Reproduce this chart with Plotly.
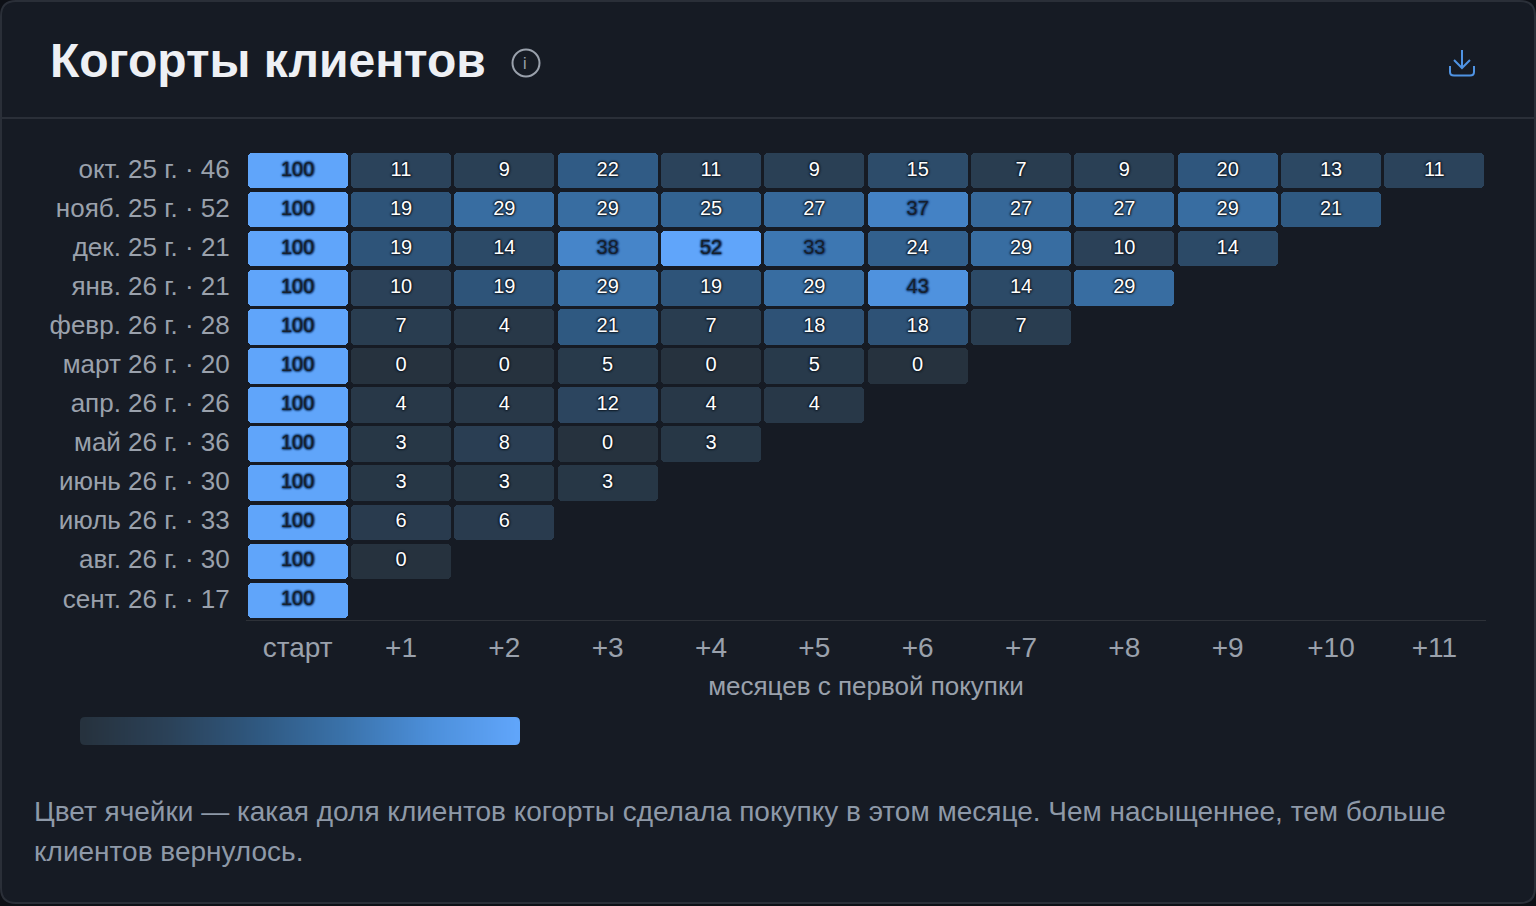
#!/usr/bin/env python3
# -*- coding: utf-8 -*-
import plotly.graph_objects as go

W, H = 1536, 906
FONT = "Liberation Sans"

cohort_labels = ["окт. 25 г. · 46", "нояб. 25 г. · 52", "дек. 25 г. · 21", "янв. 26 г. · 21",
                 "февр. 26 г. · 28", "март 26 г. · 20", "апр. 26 г. · 26", "май 26 г. · 36",
                 "июнь 26 г. · 30", "июль 26 г. · 33", "авг. 26 г. · 30", "сент. 26 г. · 17"]
month_labels = ["старт", "+1", "+2", "+3", "+4", "+5", "+6", "+7", "+8", "+9", "+10", "+11"]
retention = [
    [100, 11, 9, 22, 11, 9, 15, 7, 9, 20, 13, 11],
    [100, 19, 29, 29, 25, 27, 37, 27, 27, 29, 21],
    [100, 19, 14, 38, 52, 33, 24, 29, 10, 14],
    [100, 10, 19, 29, 19, 29, 43, 14, 29],
    [100, 7, 4, 21, 7, 18, 18, 7],
    [100, 0, 0, 5, 0, 5, 0],
    [100, 4, 4, 12, 4, 4],
    [100, 3, 8, 0, 3],
    [100, 3, 3, 3],
    [100, 6, 6],
    [100, 0],
    [100],
]
colorscale = [[0, "#26323e"], [0.2, "#2b4259"], [0.4, "#2f5880"],
              [0.6, "#3a72aa"], [0.8, "#4c8fda"], [1, "#60a5fa"]]
scale_max = 52
legend_steps = list(range(scale_max + 1))


def halo(c):
    return f"1px 0 2px {c}, -1px 0 2px {c}, 0 1px 2px {c}, 0 -1px 2px {c}, 0 0 1px {c}"


xs, ys, vals = [], [], []
for r, row in enumerate(retention):
    for c, v in enumerate(row):
        xs.append(c)
        ys.append(r)
        vals.append(v)

fig = go.Figure()

# gradient strip, on the pixel axes
fig.add_trace(go.Heatmap(
    z=[legend_steps, legend_steps], x=[80 + 440 * (v + 0.5) / len(legend_steps) for v in legend_steps], y=[724, 738],
    colorscale=colorscale, zmin=0, zmax=scale_max, zsmooth="best", showscale=False, hoverinfo="skip",
))

# cells
fig.add_trace(go.Bar(
    x=xs, y=[0.91] * len(xs), base=[r + 0.045 for r in ys], width=0.968, xaxis="x2", yaxis="y2",
    marker=dict(color=vals, colorscale=colorscale, cmin=0, cmax=scale_max, cornerradius=4, line_width=0),
    hoverinfo="skip", showlegend=False,
))

# white labels on dark cells, dark ones on bright cells
for dark, color, shadow in [(False, "#ffffff", halo("rgba(18,28,40,0.9)")),
                            (True, "#16202e", halo("#1f4a80"))]:
    idx = [i for i, v in enumerate(vals) if (v >= 33) == dark]
    fig.add_trace(go.Scatter(
        x=[xs[i] for i in idx], y=[ys[i] + 0.5 for i in idx], text=[str(vals[i]) for i in idx],
        xaxis="x2", yaxis="y2",
        mode="text", textposition="middle center", hoverinfo="skip", showlegend=False,
        textfont=dict(family=FONT, size=20, color=color, shadow=shadow),
    ))

axis_grey = "#9aa1ac"
fig.update_layout(
    width=W, height=H, margin=dict(l=0, r=0, t=0, b=0),
    paper_bgcolor="#0d1016", plot_bgcolor="rgba(0,0,0,0)",
    font=dict(family=FONT), bargap=0,
    # first pair of axes in page pixels for the card furniture, so it sits under the cells
    xaxis=dict(domain=[0, 1], anchor="y", range=[0, W], visible=False),
    yaxis=dict(domain=[0, 1], anchor="x", range=[H, 0], visible=False),
    xaxis2=dict(domain=[246 / W, 1486 / W], anchor="y2", range=[-0.5, 11.5],
                tickvals=list(range(12)), ticktext=month_labels, showgrid=False, zeroline=False,
                showline=True, linecolor="#2d3138", linewidth=1,
                ticks="outside", ticklen=2, tickcolor="rgba(0,0,0,0)",
                tickfont=dict(size=28, color=axis_grey),
                title=dict(text="месяцев с первой покупки", font=dict(size=26, color=axis_grey), standoff=15)),
    yaxis2=dict(domain=[1 - 620 / H, 1 - 151 / H], anchor="x2", range=[12, 0],
                tickvals=[i + 0.5 for i in range(12)], ticktext=cohort_labels,
                showgrid=False, zeroline=False, showline=False, ticklabelshift=2,
                ticks="outside", ticklen=10, tickcolor="rgba(0,0,0,0)",
                tickfont=dict(size=26, color=axis_grey)),
)

card = "M 16 1 L 1520 1 Q 1535 1 1535 16 L 1535 888 Q 1535 903 1520 903 L 16 903 Q 1 903 1 888 L 1 16 Q 1 1 16 1 Z"
card_fill = "#161b24"
shapes = [
    dict(type="path", path=card, fillcolor=card_fill, line=dict(color="#2a2f38", width=2), layer="below"),
    dict(type="line", x0=2, x1=1534, y0=118, y1=118, line=dict(color="#2a2f38", width=2), layer="below"),
    dict(type="circle", x0=512.5, x1=539.5, y0=49.5, y1=76.5, line=dict(color="#9aa1ac", width=2)),
    dict(type="path", path="M 1462 50 L 1462 68 M 1454 60 L 1462 68 L 1470 60", line=dict(color="#4f93e3", width=2)),
    dict(type="path", path="M 1450 66 L 1450 72 Q 1450 75.5 1454 75.5 L 1470 75.5 Q 1474 75.5 1474 72 L 1474 66",
         line=dict(color="#4f93e3", width=2)),
    # round off the gradient strip
    dict(type="path", path="M 80 717 L 85 717 Q 80 717 80 722 Z", fillcolor=card_fill, line_width=0),
    dict(type="path", path="M 520 717 L 515 717 Q 520 717 520 722 Z", fillcolor=card_fill, line_width=0),
    dict(type="path", path="M 80 745 L 85 745 Q 80 745 80 740 Z", fillcolor=card_fill, line_width=0),
    dict(type="path", path="M 520 745 L 515 745 Q 520 745 520 740 Z", fillcolor=card_fill, line_width=0),
]
for s in shapes:
    fig.add_shape(xref="x", yref="y", **s)

notes = [
    dict(x=49, y=60, text="<b>Когорты клиентов</b>", font=dict(size=48, color="#eef0f4")),
    dict(x=526, y=63, text="i", xanchor="center", font=dict(size=16, color="#9aa1ac")),
    dict(x=33, y=811, text="Цвет ячейки — какая доля клиентов когорты сделала покупку в этом месяце. Чем насыщеннее, тем больше",
         font=dict(size=28, color="#8e99a8")),
    dict(x=33, y=851, text="клиентов вернулось.", font=dict(size=28, color="#8e99a8")),
]
for n in notes:
    n.setdefault("xanchor", "left")
    fig.add_annotation(xref="x", yref="y", yanchor="middle", showarrow=False, xshift=-1, **n)

fig.write_html("out.html", config={"displayModeBar": False},
               post_script="document.body.style.margin='0';document.body.style.background='#0d1016';document.body.style.overflow='hidden';")
